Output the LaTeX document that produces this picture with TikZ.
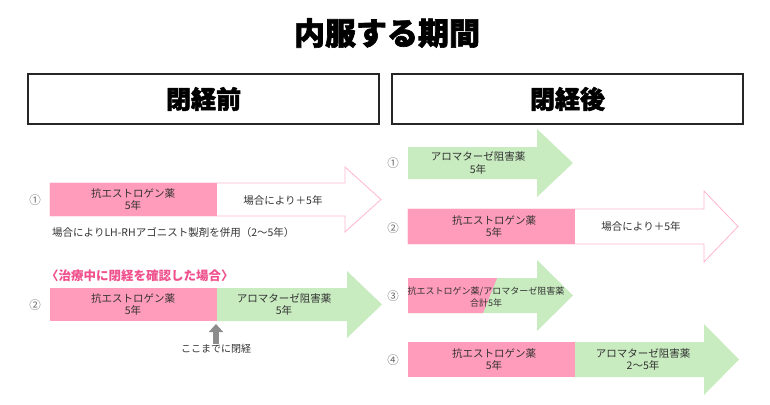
\documentclass[tikz,border=0pt]{standalone}
\usepackage{fontspec}
\setmainfont{Noto Sans CJK JP}
\newfontfamily\heavyfont{Noto Sans CJK JP}[BoldFeatures={FakeBold=2}]
\usetikzlibrary{positioning,arrows.meta}
\definecolor{medpink}{HTML}{FF9BBB}
\definecolor{medgreen}{HTML}{C8EBC0}
\definecolor{rimpink}{HTML}{FFB6CC}
\definecolor{notepink}{HTML}{F0508C}
\definecolor{inkgray}{HTML}{333333}

\begin{document}
\begin{tikzpicture}[x=1pt,y=-1pt,
  lbl/.style={text=inkgray,font=\fontsize{10.5}{12.5}\selectfont,align=center,inner sep=0pt},
  num/.style={text=black!60,font=\fontsize{11.5}{12}\selectfont,inner sep=0pt},
  period/.style={draw=black!85,line width=1.1pt,minimum width=351pt,minimum height=50pt,
    font=\heavyfont\bfseries\fontsize{25}{25}\selectfont},
  outline/.style={draw=rimpink,fill=white,line width=0.8pt}]
  \useasboundingbox (0,0) rectangle (770,404);

  \node[font=\heavyfont\bfseries\fontsize{31}{31}\selectfont] (title) at (387,33) {内服する期間};
  \node[period] (pre) at (203.5,99) {閉経前};
  \node[period] (post) at (567.5,99) {閉経後};

  % before menopause
  \filldraw[outline] (50,183) -- (345,183) -- (345,167) -- (381,199.5) -- (345,232) -- (345,216) -- (50,216) -- cycle;
  \fill[medpink] (50,183) rectangle (217,216);
  \node[num] (n1) at (35,200) {①};
  \node[lbl] (ae1) at (133,199.5) {抗エストロゲン薬\\5年};
  \node[lbl] (ext1) at (283,201) {場合により＋5年};
  \node[lbl,anchor=west] (lhrh) at (52,233) {場合によりLH-RHアゴニスト製剤を併用（2～5年）};

  \node[text=notepink,anchor=west,inner sep=0pt,font=\bfseries\fontsize{12.5}{13}\selectfont] (during) at (46,276) {〈治療中に閉経を確認した場合〉};
  \fill[medgreen] (217,288) -- (347,288) -- (347,271) -- (382,304.5) -- (347,338) -- (347,321) -- (217,321) -- cycle;
  \fill[medpink] (50,288) rectangle (217,321);
  \node[num] (n2) at (35,305) {②};
  \node[lbl] (ae2) at (133,304.5) {抗エストロゲン薬\\5年};
  \node[lbl] (ai2) at (284,304.5) {アロマターゼ阻害薬\\5年};
  \coordinate (switch) at (216,324);
  \node[lbl,font=\fontsize{10}{11}\selectfont] (meno) at (216,349) {ここまでに閉経};
  \draw[black!45,line width=6pt,-{Triangle[width=14pt,length=8pt]}] (meno.north) -- (switch);

  % after menopause
  \fill[medgreen] (408,147) -- (537,147) -- (537,129) -- (573,163) -- (537,197) -- (537,179) -- (408,179) -- cycle;
  \node[num] (m1) at (393,163) {①};
  \node[lbl] (ai3) at (478,163) {アロマターゼ阻害薬\\5年};

  \filldraw[outline] (408,209) -- (704,209) -- (704,191) -- (738,226.5) -- (704,262) -- (704,244) -- (408,244) -- cycle;
  \fill[medpink] (408,209) rectangle (575,244);
  \node[num] (m2) at (393,228) {②};
  \node[lbl] (ae4) at (494,226.5) {抗エストロゲン薬\\5年};
  \node[lbl] (ext4) at (641,227) {場合により＋5年};

  \fill[medgreen] (408,278) -- (537,278) -- (537,260) -- (573,295.5) -- (537,331) -- (537,313) -- (408,313) -- cycle;
  \fill[medpink] (408,278) -- (497,278) -- (483,313) -- (408,313) -- cycle;
  \node[num] (m3) at (393,296) {③};
  \node[lbl,font=\fontsize{9}{11.5}\selectfont] (mix5) at (486,297) {抗エストロゲン薬/アロマターゼ阻害薬\\合計5年};

  \fill[medgreen] (575,342) -- (704,342) -- (704,324) -- (739,359.5) -- (704,395) -- (704,377) -- (575,377) -- cycle;
  \fill[medpink] (408,342) rectangle (575,377);
  \node[num] (m4) at (393,360) {④};
  \node[lbl] (ae6) at (494,359.5) {抗エストロゲン薬\\5年};
  \node[lbl] (ai6) at (643,359.5) {アロマターゼ阻害薬\\2～5年};
\end{tikzpicture}
\end{document}
